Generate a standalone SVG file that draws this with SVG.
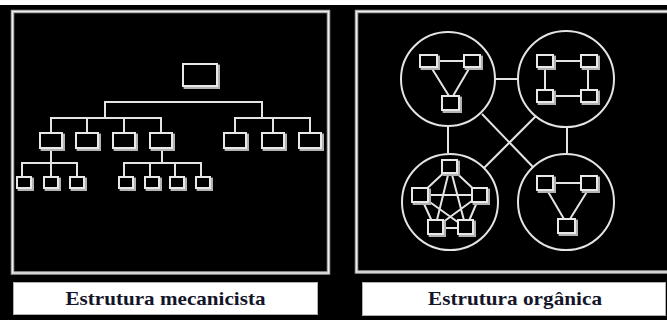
<svg xmlns="http://www.w3.org/2000/svg" width="667" height="320" viewBox="0 0 667 320">
  <defs>
    <!-- slight raised edge on the boxes: a grey copy pushed down-right -->
    <filter id="raise" x="-20%" y="-20%" width="150%" height="150%">
      <feOffset in="SourceGraphic" dx="1.6" dy="1.6" result="off"/>
      <feColorMatrix in="off" type="matrix" values="0.55 0 0 0 0  0 0.55 0 0 0  0 0 0.55 0 0  0 0 0 1 0" result="grey"/>
      <feMerge>
        <feMergeNode in="grey"/>
        <feMergeNode in="SourceGraphic"/>
      </feMerge>
    </filter>
  </defs>
  <style>
    .frame { fill: none; stroke: #a8a8a8; stroke-width: 3.5; }
    .frame-in { fill: none; stroke: #f0f0f0; stroke-width: 1.2; }
    .line { fill: none; stroke: #e4e4e4; stroke-width: 2; }
    .box { fill: #000; stroke: #e8e8e8; stroke-width: 2; filter: url(#raise); }
    .ring { fill: none; stroke: #e4e4e4; stroke-width: 2; }
    .caption { fill: #fff; stroke: #b0b0b0; stroke-width: 1; }
    .label { font-family: "Liberation Serif", "Times New Roman", serif; font-weight: bold; font-size: 19px; fill: #15152a; text-anchor: middle; }
  </style>

  <!-- background -->
  <rect x="0" y="0" width="667" height="320" fill="#000"/>
  <rect x="0" y="0" width="667" height="5" fill="#fff"/>

  <!-- panel frames -->
  <rect class="frame" x="12.5" y="11.5" width="316" height="261.5"/>
  <rect class="frame-in" x="12.5" y="11.5" width="316" height="261.5"/>
  <rect class="frame" x="356.5" y="11.5" width="320" height="260.5"/>
  <rect class="frame-in" x="356.5" y="11.5" width="320" height="260.5"/>

  <!-- connectors -->
  <g id="connectors">
    <!-- hierarchy -->
    <path class="line" d="M105 118 V102 H262 V118"/>
    <path class="line" d="M51 133 V118 H161 V133 M87 118 V133 M124 118 V133"/>
    <path class="line" d="M235 133 V118 H310 V133 M273 118 V133"/>
    <path class="line" d="M51 149 V163 M22 177 V163 H77 V177 M51 163 V177"/>
    <path class="line" d="M162 149 V163 M124 177 V163 H201 V177 M150 163 V177 M175 163 V177"/>
    <!-- links between circles -->
    <path class="line" d="M495 79 H518"/>
    <path class="line" d="M448 127 V153"/>
    <path class="line" d="M567 127 V153"/>
    <path class="line" d="M482 114 L533 167"/>
    <path class="line" d="M536 116 L484 168"/>
    <!-- inside top-left circle -->
    <path class="line" d="M437 61 H464 M431 67 L449 96 M470 67 L453 96"/>
    <!-- inside top-right circle -->
    <path class="line" d="M553 61 H581 M553 96 H581 M545 67 V90 M588 67 V90"/>
    <!-- inside bottom-right circle -->
    <path class="line" d="M553 183 H581 M547 190 L564 219 M588 190 L570 219"/>
    <!-- inside bottom-left circle: every pair joined -->
    <path class="line" d="M450 167 L420 195 M450 167 L480 195 M450 167 L435 228 M450 167 L466 228 M420 195 L480 195 M420 195 L435 228 M420 195 L466 228 M480 195 L435 228 M480 195 L466 228 M435 228 L466 228"/>
  </g>

  <!-- hierarchy nodes -->
  <g id="top">
    <rect class="box" x="183" y="64" width="34" height="22"/>
  </g>
  <g id="level2">
    <rect class="box" x="40" y="133" width="22" height="15"/>
    <rect class="box" x="76" y="133" width="22" height="15"/>
    <rect class="box" x="113" y="133" width="22" height="15"/>
    <rect class="box" x="150" y="133" width="22" height="15"/>
    <rect class="box" x="224" y="133" width="22" height="15"/>
    <rect class="box" x="262" y="133" width="22" height="15"/>
    <rect class="box" x="299" y="133" width="22" height="15"/>
  </g>
  <g id="level3">
    <rect class="box" x="17" y="177" width="14" height="11"/>
    <rect class="box" x="44" y="177" width="14" height="11"/>
    <rect class="box" x="70" y="177" width="14" height="11"/>
    <rect class="box" x="119" y="177" width="14" height="11"/>
    <rect class="box" x="145" y="177" width="14" height="11"/>
    <rect class="box" x="170" y="177" width="14" height="11"/>
    <rect class="box" x="196" y="177" width="14" height="11"/>
  </g>

  <!-- organic clusters -->
  <g id="cluster-triangle-a">
    <circle class="ring" cx="448" cy="79" r="47"/>
    <rect class="box" x="420" y="55" width="17" height="12"/>
    <rect class="box" x="464" y="55" width="16" height="12"/>
    <rect class="box" x="442" y="96" width="17" height="14"/>
  </g>
  <g id="cluster-square">
    <circle class="ring" cx="566" cy="79" r="48"/>
    <rect class="box" x="537" y="55" width="16" height="12"/>
    <rect class="box" x="581" y="55" width="16" height="12"/>
    <rect class="box" x="537" y="90" width="16" height="12"/>
    <rect class="box" x="581" y="90" width="16" height="12"/>
  </g>
  <g id="cluster-star">
    <circle class="ring" cx="450" cy="202" r="48"/>
    <rect class="box" x="442" y="160" width="15" height="13"/>
    <rect class="box" x="412" y="188" width="16" height="14"/>
    <rect class="box" x="472" y="188" width="15" height="14"/>
    <rect class="box" x="428" y="220" width="15" height="14"/>
    <rect class="box" x="458" y="220" width="15" height="14"/>
  </g>
  <g id="cluster-triangle-b">
    <circle class="ring" cx="566" cy="202" r="48"/>
    <rect class="box" x="537" y="176" width="16" height="14"/>
    <rect class="box" x="581" y="176" width="16" height="14"/>
    <rect class="box" x="558" y="219" width="17" height="14"/>
  </g>

  <!-- captions -->
  <g id="caption-left">
    <rect class="caption" x="13.5" y="282.5" width="304" height="32"/>
    <text class="label" x="165.5" y="304.5" textLength="200" lengthAdjust="spacingAndGlyphs">Estrutura mecanicista</text>
  </g>
  <g id="caption-right">
    <rect class="caption" x="362.5" y="282.5" width="303" height="33"/>
    <text class="label" x="515" y="305" textLength="174" lengthAdjust="spacingAndGlyphs">Estrutura orgânica</text>
  </g>
</svg>
